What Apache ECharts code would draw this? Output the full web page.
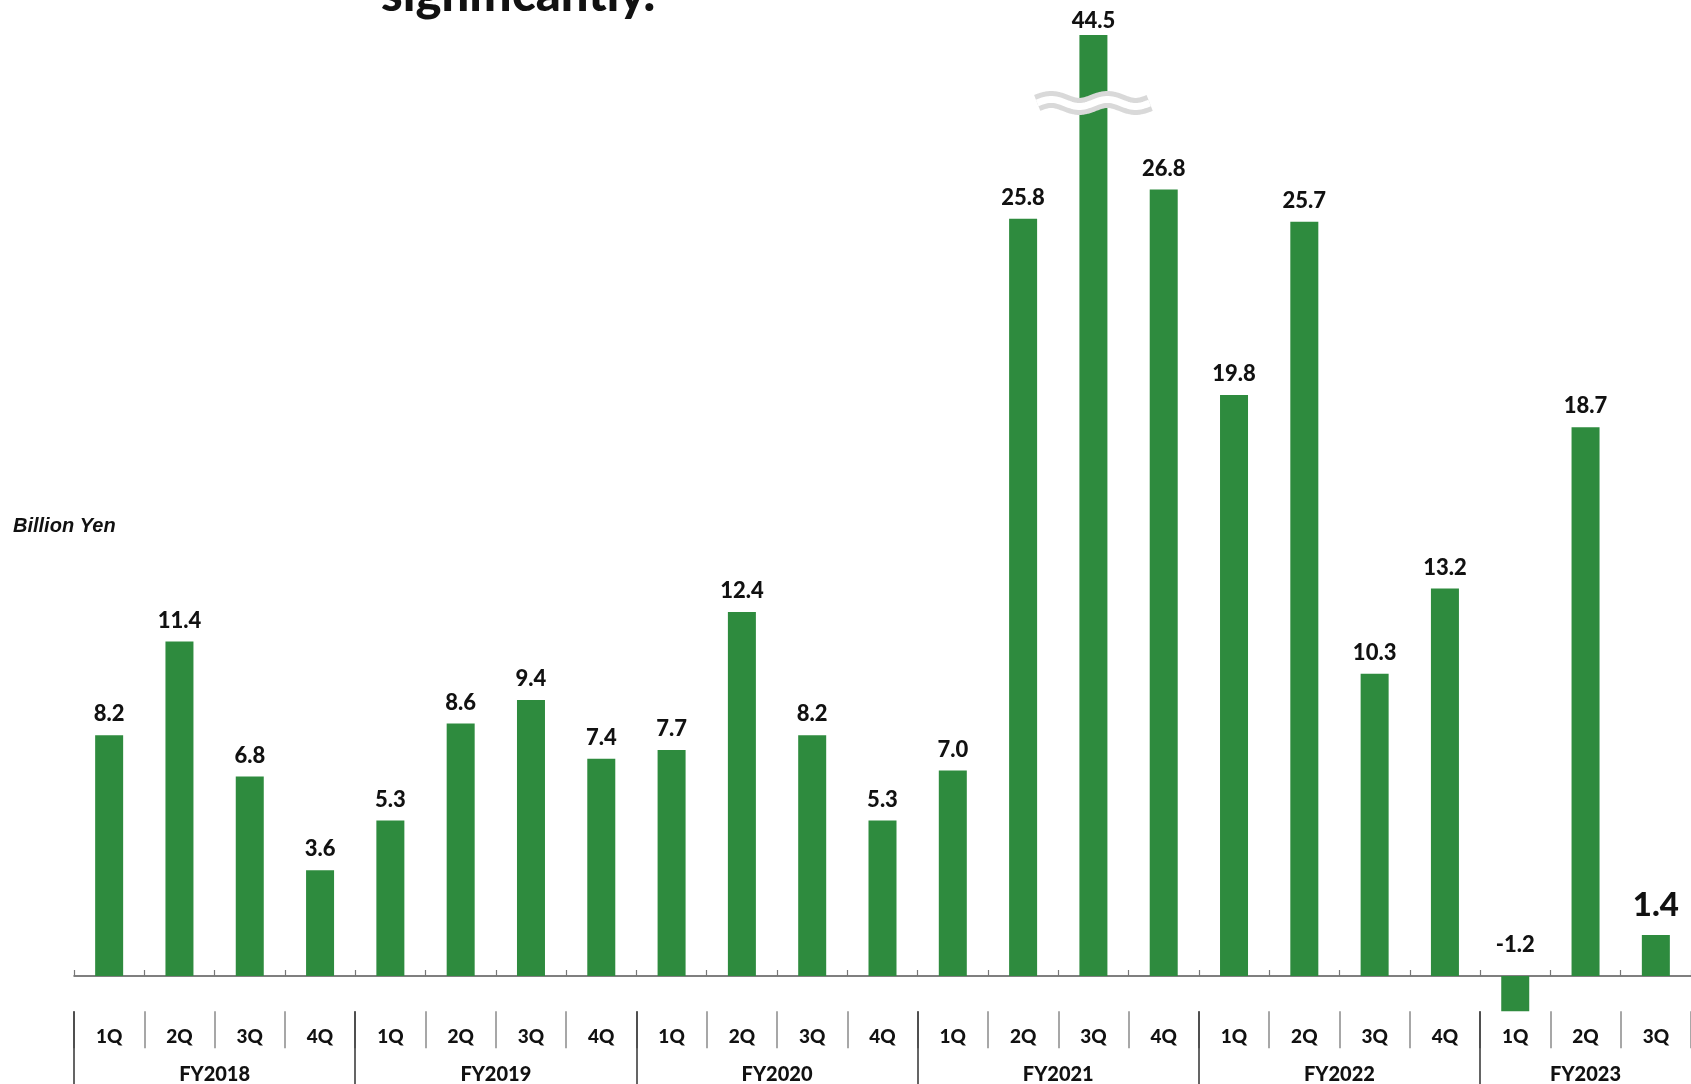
<!DOCTYPE html>
<html>
<head>
<meta charset="utf-8">
<title>Quarterly Net Income</title>
<script src="https://cdn.jsdelivr.net/npm/echarts@6/dist/echarts.min.js"></script>
<style>
  html, body { margin: 0; padding: 0; background: #ffffff; }
  #chart { width: 1691px; height: 1084px; }
</style>
</head>
<body>
<div id="chart"></div>
<script>
// Fiscal years and how many quarters each one shows
const fiscalYears = ['FY2018', 'FY2019', 'FY2020', 'FY2021', 'FY2022', 'FY2023'];
const quartersPerYear = [4, 4, 4, 4, 4, 3];

// Quarter labels along the axis
const quarterLabels = [
  '1Q', '2Q', '3Q', '4Q',
  '1Q', '2Q', '3Q', '4Q',
  '1Q', '2Q', '3Q', '4Q',
  '1Q', '2Q', '3Q', '4Q',
  '1Q', '2Q', '3Q', '4Q',
  '1Q', '2Q', '3Q'
];

// Net income per quarter, billion yen
const netIncome = [
  8.2, 11.4, 6.8, 3.6,
  5.3, 8.6, 9.4, 7.4,
  7.7, 12.4, 8.2, 5.3,
  7.0, 25.8, 44.5, 26.8,
  19.8, 25.7, 10.3, 13.2,
  -1.2, 18.7, 1.4
];

// Value range skipped on the vertical axis (the tall FY2021 3Q bar)
const breakStart = 29.5;
const breakEnd = 42.5;

const GREEN = '#2E8B3E';
const LABEL_FONT = 'Lato, "Noto Sans", sans-serif';

// Year boundaries and year-label centres in quarter units
const yearBounds = [];
const yearCenters = [];
let acc = 0;
quartersPerYear.forEach(function (n) {
  yearBounds.push(acc);
  yearCenters.push(acc + n / 2);
  acc += n;
});
const totalQuarters = acc;

// Index of the bar that crosses the break
const brokenIndex = netIncome.findIndex(function (v) { return v > breakEnd; });

const barData = netIncome.map(function (v, i) {
  const item = { value: v };
  if (i === netIncome.length - 1) {
    // latest quarter gets a larger label
    item.label = { fontSize: 33, distance: 13 };
  } else if (v < 0) {
    item.label = { distance: 20 };
  } else if (i === brokenIndex) {
    item.label = { distance: 3 };
  }
  return item;
});

const chart = echarts.init(document.getElementById('chart'), null, { renderer: 'canvas' });

const option = {
  animation: false,
  backgroundColor: '#ffffff',
  grid: {
    left: 74,
    right: 0,
    top: 20.3,
    bottom: 72.8,
    containLabel: false,
    outerBoundsMode: 'none'
  },
  graphic: [
    {
      type: 'text',
      x: 381,
      y: -5,
      style: {
        text: 'significantly.',
        font: '900 49px ' + LABEL_FONT,
        fill: '#111111',
        align: 'left',
        verticalAlign: 'middle'
      }
    },
    {
      type: 'text',
      x: 13,
      y: 526,
      style: {
        text: 'Billion Yen',
        font: 'italic bold 20px "Liberation Sans", Arial, sans-serif',
        fill: '#111111',
        align: 'left',
        verticalAlign: 'middle'
      }
    }
  ],
  xAxis: [
    {
      // zero line with small upward ticks at each quarter boundary
      type: 'category',
      data: quarterLabels,
      position: 'bottom',
      boundaryGap: true,
      axisLine: { show: true, onZero: true, lineStyle: { color: '#555555', width: 1.5 } },
      axisTick: { show: true, inside: true, length: 6, lineStyle: { color: '#777777', width: 1.2 } },
      axisLabel: { show: false },
      splitLine: { show: false }
    },
    {
      // quarter row
      type: 'category',
      data: quarterLabels,
      position: 'bottom',
      offset: 0,
      boundaryGap: true,
      axisLine: { show: false, onZero: false },
      axisTick: { show: true, length: 37, lineStyle: { color: '#8a8a8a', width: 1.5 } },
      axisLabel: {
        show: true,
        margin: 16,
        fontFamily: LABEL_FONT,
        fontWeight: 900,
        fontSize: 19,
        color: '#111111'
      },
      splitLine: { show: false }
    },
    {
      // fiscal-year row
      type: 'value',
      min: 0,
      max: totalQuarters,
      position: 'bottom',
      offset: 0,
      axisLine: { show: false, onZero: false },
      axisTick: {
        show: true,
        length: 80,
        customValues: yearBounds,
        lineStyle: { color: '#333333', width: 1.5 }
      },
      axisLabel: {
        show: true,
        margin: 53,
        customValues: yearCenters,
        formatter: function (v) {
          const idx = yearCenters.findIndex(function (c) { return Math.abs(c - v) < 1e-6; });
          return idx >= 0 ? fiscalYears[idx] : '';
        },
        fontFamily: LABEL_FONT,
        fontWeight: 900,
        fontSize: 20,
        color: '#111111'
      },
      splitLine: { show: false }
    }
  ],
  yAxis: {
    type: 'value',
    min: -1.2,
    max: 45,
    show: false,
    breaks: [{ start: breakStart, end: breakEnd, gap: '1.67%' }],
    breakArea: { show: false },
    splitLine: { show: false }
  },
  series: [
    {
      type: 'bar',
      xAxisIndex: 0,
      yAxisIndex: 0,
      data: barData,
      barWidth: 28,
      itemStyle: { color: GREEN },
      label: {
        show: true,
        position: 'top',
        distance: 10,
        fontFamily: LABEL_FONT,
        fontWeight: 900,
        fontSize: 22,
        color: '#111111',
        formatter: function (p) { return p.value.toFixed(1); }
      },
      z: 2
    },
    {
      // wavy break mark across the tall bar
      type: 'custom',
      xAxisIndex: 0,
      yAxisIndex: 0,
      clip: false,
      silent: true,
      z: 5,
      encode: { x: 0, y: [1, 2] },
      data: [[brokenIndex, breakStart, breakEnd]],
      renderItem: function (params, api) {
        const lo = api.coord([api.value(0), api.value(1)]);
        const hi = api.coord([api.value(0), api.value(2)]);
        const cx = lo[0];
        const cy = (lo[1] + hi[1]) / 2 + 1;
        const w = api.size([1, 0])[0] * 1.6;
        const period = w / 2;
        const amp = 3.5;
        const pts = [];
        const steps = 60;
        for (let i = 0; i <= steps; i++) {
          const dx = w * i / steps;
          pts.push([cx - w / 2 + dx, cy - amp * Math.sin(2 * Math.PI * dx / period)]);
        }
        return {
          type: 'group',
          children: [
            { type: 'polyline', shape: { points: pts }, style: { stroke: '#d9d9d9', lineWidth: 17, fill: null, lineCap: 'butt', lineJoin: 'round' } },
            { type: 'polyline', shape: { points: pts }, style: { stroke: '#ffffff', lineWidth: 7, fill: null, lineCap: 'butt', lineJoin: 'round' } }
          ]
        };
      }
    }
  ]
};

chart.setOption(option);
</script>
</body>
</html>
